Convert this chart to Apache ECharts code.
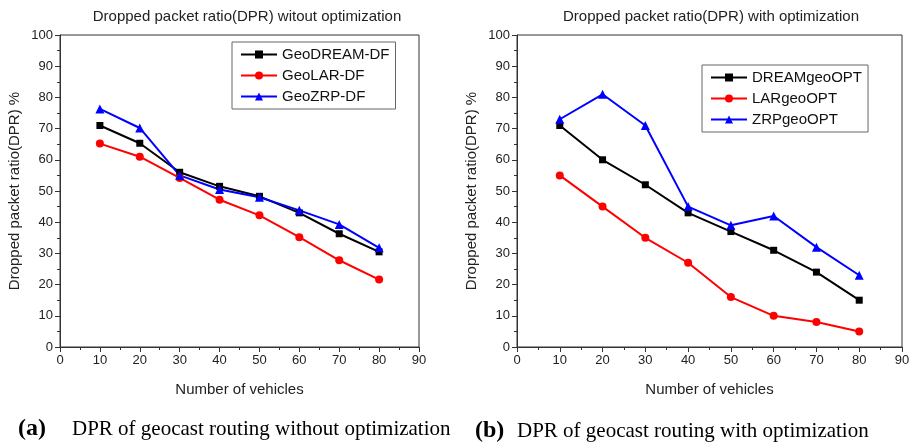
<!DOCTYPE html>
<html><head><meta charset="utf-8">
<script src="https://cdn.jsdelivr.net/npm/echarts@6/dist/echarts.min.js"></script>
<style>html,body{margin:0;padding:0;background:#fff}#c{width:913px;height:448px}</style>
</head><body><div id="c"></div>
<script>
var vehicles = [10, 20, 30, 40, 50, 60, 70, 80];
var geoDreamDF = [71, 65.3, 56, 51.5, 48.3, 43, 36.3, 30.5];
var geoLarDF = [65.2, 61, 54.2, 47.2, 42.2, 35.2, 27.8, 21.6];
var geoZrpDF = [76.3, 70.2, 55, 50.5, 48, 43.8, 39.3, 31.8];
var dreamGeoOPT = [71, 60, 52, 43, 37, 31, 24, 15];
var larGeoOPT = [55, 45, 35, 27, 16, 10, 8, 5];
var zrpGeoOPT = [73, 81, 71, 45, 39, 42, 32, 23];
var titles = ['Dropped packet ratio(DPR) witout optimization', 'Dropped packet ratio(DPR) with optimization'];
var captions = ['DPR of geocast routing without optimization', 'DPR of geocast routing with optimization'];

function pairs(ys){ return vehicles.map(function(x,i){return [x, ys[i]];}); }
var font = 'Liberation Sans, Arial, sans-serif';
var axisCol = '#333';
function xAx(gi){ return {type:'value', gridIndex:gi, min:0, max:90, interval:10,
  name:'Number of vehicles', nameLocation:'middle', nameGap:35,
  nameTextStyle:{fontFamily:font, fontSize:15, color:'#222'},
  axisLine:{show:true, onZero:false, lineStyle:{color:axisCol, width:1}},
  axisTick:{show:true, length:5, lineStyle:{color:axisCol}},
  minorTick:{show:true, splitNumber:2, length:3, lineStyle:{color:axisCol}},
  axisLabel:{fontFamily:font, fontSize:13, color:'#222', margin:7},
  splitLine:{show:false}}; }
function yAx(gi){ return {type:'value', gridIndex:gi, min:0, max:100, interval:10,
  name:'Dropped packet ratio(DPR) %', nameLocation:'middle', nameGap:38, nameRotate:90,
  nameTextStyle:{fontFamily:font, fontSize:15, color:'#222'},
  axisLine:{show:true, onZero:false, lineStyle:{color:axisCol, width:1}},
  axisTick:{show:true, length:5, lineStyle:{color:axisCol}},
  minorTick:{show:true, splitNumber:2, length:3, lineStyle:{color:axisCol}},
  axisLabel:{fontFamily:font, fontSize:13, color:'#222', margin:7},
  splitLine:{show:false}}; }
function ser(name, data, color, sym, size, gi){
  return {type:'line', name:name, xAxisIndex:gi, yAxisIndex:gi, data:pairs(data),
    symbol:sym, symbolSize:size, showSymbol:true,
    lineStyle:{color:color, width:2}, itemStyle:{color:color}, animation:false};
}
var legendCommon = {orient:'vertical', borderColor:'#666', borderWidth:1, backgroundColor:'#fff',
  itemWidth:36, itemHeight:10, itemGap:6, padding:[5,6,5,8],
  textStyle:{fontFamily:font, fontSize:15, color:'#111'}};
var chart = echarts.init(document.getElementById('c'));
chart.setOption({
  animation:false,
  title:[
    {text:titles[0], left:242, top:4, textAlign:'center', textStyle:{fontFamily:font, fontSize:15, fontWeight:'normal', color:'#222'}},
    {text:titles[1], left:706, top:4, textAlign:'center', textStyle:{fontFamily:font, fontSize:15, fontWeight:'normal', color:'#222'}}
  ],
  grid:[
    {left:60, top:35, width:359, height:312, show:true, borderColor:axisCol, borderWidth:1, backgroundColor:'transparent'},
    {left:517, top:35, width:385, height:312, show:true, borderColor:axisCol, borderWidth:1, backgroundColor:'transparent'}
  ],
  xAxis:[xAx(0), xAx(1)],
  yAxis:[yAx(0), yAx(1)],
  legend:[
    Object.assign({}, legendCommon, {left:232, top:42, data:['GeoDREAM-DF','GeoLAR-DF','GeoZRP-DF']}),
    Object.assign({}, legendCommon, {left:702, top:65, data:['DREAMgeoOPT','LARgeoOPT','ZRPgeoOPT']})
  ],
  series:[
    ser('GeoDREAM-DF', geoDreamDF, '#000000', 'rect', 7, 0),
    ser('GeoLAR-DF', geoLarDF, '#ff0000', 'circle', 8, 0),
    ser('GeoZRP-DF', geoZrpDF, '#0000ff', 'triangle', 9, 0),
    ser('DREAMgeoOPT', dreamGeoOPT, '#000000', 'rect', 7, 1),
    ser('LARgeoOPT', larGeoOPT, '#ff0000', 'circle', 8, 1),
    ser('ZRPgeoOPT', zrpGeoOPT, '#0000ff', 'triangle', 9, 1)
  ],
  graphic:[
    {type:'text', left:18, top:417, style:{text:'(a)', font:'bold 24px "Liberation Serif", "DejaVu Serif", serif', fill:'#000'}},
    {type:'text', left:72, top:419, style:{text:captions[0], font:'21px "Liberation Serif", "DejaVu Serif", serif', fill:'#000'}},
    {type:'text', left:475, top:419, style:{text:'(b)', font:'bold 24px "Liberation Serif", "DejaVu Serif", serif', fill:'#000'}},
    {type:'text', left:517, top:421, style:{text:captions[1], font:'21px "Liberation Serif", "DejaVu Serif", serif', fill:'#000'}}
  ]
});
</script></body></html>
